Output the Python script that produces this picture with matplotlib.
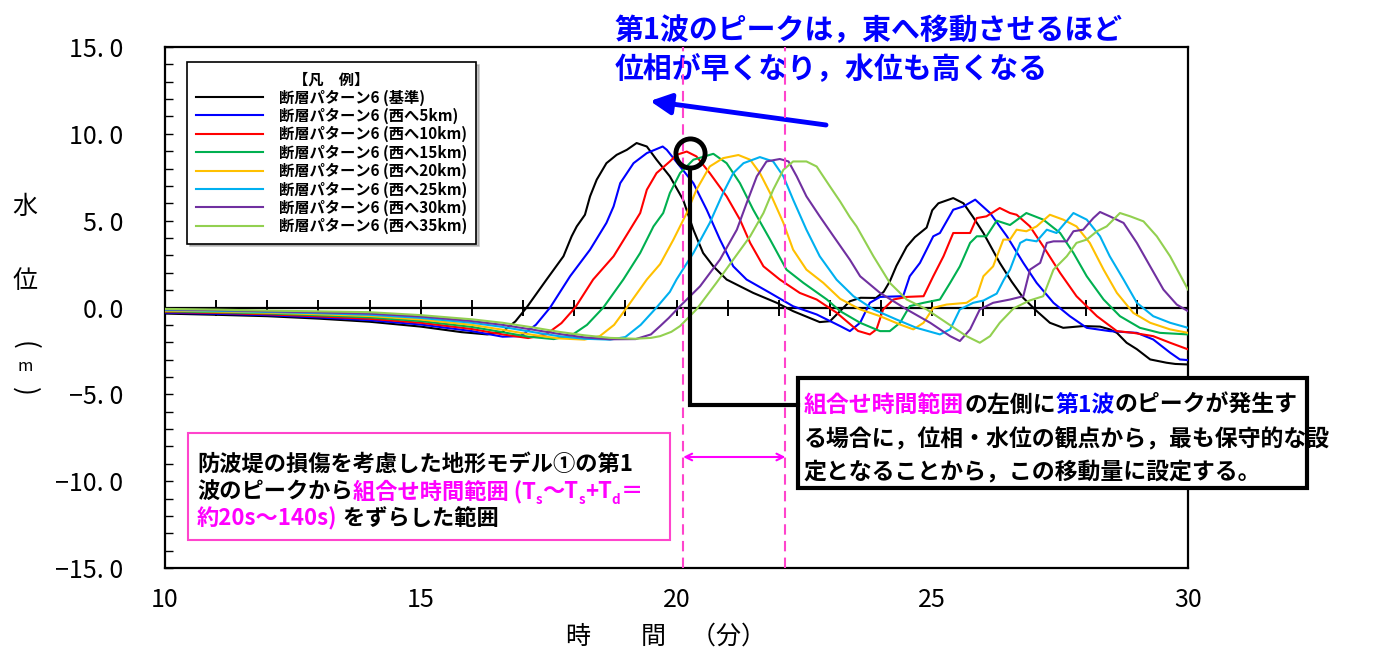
import matplotlib
matplotlib.use("Agg")
import matplotlib.pyplot as plt
from matplotlib.patches import Rectangle

# ---- data (time in minutes, water level in m) ----
black_t = [10, 11, 12, 13, 14, 15, 15.8, 16.3, 16.6, 16.85, 17.07, 17.46, 17.79, 17.95, 18.05, 18.21, 18.31, 18.44, 18.63, 18.83,
           19.03, 19.22, 19.42, 19.61, 19.87, 20.13, 20.33, 20.52, 20.72, 20.98, 21.5, 21.96, 22.28, 22.8, 23.0, 23.2, 23.39, 23.6, 23.9, 24.05,
           24.17, 24.3, 24.5, 24.66, 24.89, 25.0, 25.12, 25.41, 25.61, 25.8, 26.0, 26.32, 26.55, 26.78, 27.04, 27.3, 27.56, 27.95, 28.28, 28.47,
           28.61, 28.8, 29.0, 29.26, 29.58, 29.75, 30]
black_v = [-0.35, -0.42, -0.5, -0.64, -0.82, -1.1, -1.42, -1.55, -1.4, -0.8, 0.0, 1.61, 2.95, 4.1, 4.67, 5.34, 6.4, 7.36, 8.31, 8.79,
           9.08, 9.47, 9.27, 8.51, 7.55, 6.2, 4.48, 3.14, 2.37, 1.61, 0.84, 0.27, -0.21, -0.84, -0.79, -0.2, 0.36, 0.56, 0.55, 0.9,
           1.5, 2.4, 3.5, 4.05, 4.6, 5.6, 6.0, 6.3, 6.0, 5.2, 4.29, 2.57, 1.5, 0.55, -0.2, -0.88, -1.17, -1.07, -1.1, -1.26,
           -1.46, -2.03, -2.4, -2.99, -3.18, -3.25, -3.28]

blue_t = [10, 11, 12, 13, 14, 15, 16, 16.6, 16.95, 17.25, 17.53, 17.92, 18.31, 18.63, 18.77, 18.9, 19.16, 19.42, 19.73, 19.81,
          20.07, 20.33, 20.59, 20.85, 21.11, 21.37, 21.83, 22.28, 22.74, 23.2, 23.39, 23.59, 23.78, 23.98, 24.43, 24.56, 24.76, 25.02, 25.15, 25.41,
          25.61, 25.84, 26.13, 26.46, 26.78, 27.04, 27.37, 27.69, 28.02, 28.47, 29.0, 29.32, 29.65, 29.84, 30]
blue_v = [-0.3, -0.36, -0.44, -0.57, -0.73, -0.98, -1.36, -1.68, -1.65, -1.0, 0.0, 1.8, 3.33, 4.87, 5.82, 7.16, 8.31, 8.89, 9.27, 9.08,
          8.12, 7.16, 5.63, 3.91, 2.37, 1.61, 0.84, 0.07, -0.4, -1.07, -1.36, -0.88, 0.27, 0.61, 0.65, 1.8, 2.57, 4.1, 4.29, 5.63,
          5.82, 6.21, 5.44, 4.1, 2.57, 1.42, 0.27, -0.5, -1.17, -1.36, -1.46, -1.84, -2.6, -2.99, -3.03]

red_t = [10, 11, 12, 13, 14, 15, 16, 16.6, 17.1, 17.45, 17.75, 18.02, 18.37, 18.77, 19.09, 19.29, 19.42, 19.61, 19.87, 20.0,
         20.2, 20.39, 20.65, 20.98, 21.24, 21.44, 21.7, 22.02, 22.41, 22.74, 23.13, 23.35, 23.55, 23.78, 23.91, 24.04, 24.24, 24.5, 24.83, 25.02,
         25.22, 25.41, 25.54, 25.74, 25.87, 26.06, 26.32, 26.52, 26.65, 26.91, 27.17, 27.5, 27.82, 28.22, 28.61, 28.93, 29.32, 29.65, 30]
red_v = [-0.26, -0.31, -0.39, -0.51, -0.65, -0.88, -1.24, -1.55, -1.76, -1.55, -0.9, 0.0, 1.61, 2.95, 4.48, 5.44, 6.78, 7.74, 8.41, 8.79,
         8.98, 8.7, 7.74, 6.4, 5.06, 3.72, 2.37, 1.61, 0.84, 0.46, -0.3, -0.85, -1.35, -1.55, -1.26, -0.11, 0.46, 0.61, 0.65, 1.8,
         2.95, 4.29, 4.29, 4.29, 5.15, 5.25, 5.73, 5.44, 5.34, 4.67, 3.52, 1.99, 0.65, -0.5, -1.36, -1.46, -1.65, -2.03, -2.41]

green_t = [10, 11, 12, 13, 14, 15, 16, 16.6, 17.1, 17.6, 17.95, 18.25, 18.57, 18.96, 19.29, 19.55, 19.74, 19.87, 20.07, 20.33,
           20.72, 20.98, 21.24, 21.5, 21.83, 22.15, 22.48, 22.94, 23.2, 23.59, 23.98, 24.17, 24.37, 24.56, 24.83, 25.15, 25.35, 25.54, 25.74, 25.87,
           26.06, 26.26, 26.52, 26.84, 27.17, 27.5, 27.76, 28.02, 28.35, 28.67, 29.06, 29.45, 30]
green_v = [-0.22, -0.27, -0.34, -0.45, -0.57, -0.78, -1.12, -1.42, -1.68, -1.82, -1.6, -1.0, 0.0, 1.61, 3.14, 4.67, 5.44, 6.59, 7.74, 8.51,
           8.85, 8.31, 7.16, 5.63, 3.91, 2.18, 1.42, 0.46, -0.21, -0.88, -1.36, -1.36, -0.88, 0.08, 0.27, 0.46, 1.42, 2.37, 3.72, 4.1,
           4.1, 5.0, 4.75, 5.44, 5.06, 4.29, 3.14, 1.8, 0.46, -0.5, -1.17, -1.46, -1.55]

yellow_t = [10, 11, 12, 13, 14, 15, 16, 16.6, 17.2, 17.7, 18.2, 18.5, 18.78, 19.03, 19.42, 19.68, 19.94, 20.2, 20.39, 20.65,
            20.91, 21.21, 21.44, 21.63, 21.83, 22.09, 22.28, 22.54, 22.87, 23.2, 23.59, 23.98, 24.37, 24.63, 24.83, 25.02, 25.28, 25.67, 25.87, 26.0,
            26.19, 26.39, 26.52, 26.65, 26.84, 27.04, 27.3, 27.56, 27.82, 28.08, 28.35, 28.61, 28.93, 29.26, 29.65, 30]
yellow_v = [-0.18, -0.23, -0.3, -0.39, -0.49, -0.69, -1.0, -1.28, -1.58, -1.78, -1.85, -1.65, -1.0, 0.0, 1.61, 2.5, 3.91, 5.44, 6.78, 8.12,
            8.6, 8.78, 8.51, 7.74, 6.59, 4.87, 3.33, 2.18, 1.42, 0.5, -0.11, -0.5, -0.98, -1.26, -0.88, -0.02, 0.17, 0.27, 0.65, 1.8,
            2.37, 3.91, 3.91, 4.48, 4.39, 4.67, 5.34, 5.06, 4.67, 3.72, 2.18, 0.84, -0.31, -0.88, -1.26, -1.46]

cyan_t = [10, 11, 12, 13, 14, 15, 16, 16.6, 17.2, 17.7, 18.2, 18.7, 19.0, 19.3, 19.61, 19.87, 20.0, 20.33, 20.65, 20.91,
          21.11, 21.31, 21.63, 21.89, 22.09, 22.28, 22.54, 22.8, 23.13, 23.46, 23.85, 24.3, 24.69, 25.15, 25.35, 25.54, 25.8, 26.0, 26.26, 26.4,
          26.52, 26.72, 26.84, 27.04, 27.24, 27.43, 27.76, 28.02, 28.28, 28.47, 28.74, 29.0, 29.32, 29.65, 30]
cyan_v = [-0.14, -0.19, -0.26, -0.33, -0.42, -0.6, -0.88, -1.12, -1.42, -1.65, -1.8, -1.85, -1.7, -1.0, 0.0, 0.9, 1.61, 3.14, 4.87, 6.59,
          7.74, 8.31, 8.66, 8.41, 7.55, 6.21, 4.48, 2.95, 1.6, 0.65, -0.11, -0.69, -1.17, -1.55, -1.26, -0.11, 0.27, 0.4, 0.8, 1.6,
          2.18, 3.72, 3.91, 3.81, 4.48, 4.29, 5.44, 5.06, 4.1, 2.95, 1.61, 0.27, -0.5, -0.88, -1.17]

purple_t = [10, 11, 12, 13, 14, 15, 16, 16.6, 17.2, 17.7, 18.2, 18.7, 19.2, 19.5, 19.68, 19.85, 20.07, 20.46, 20.85, 21.18,
            21.37, 21.57, 21.76, 22.02, 22.19, 22.35, 22.54, 22.8, 23.07, 23.39, 23.59, 23.98, 24.5, 24.96, 25.35, 25.54, 25.74, 25.93, 26.19, 26.52,
            26.78, 26.91, 27.11, 27.24, 27.37, 27.63, 27.76, 27.95, 28.15, 28.28, 28.47, 28.74, 29.0, 29.26, 29.52, 29.78, 30]
purple_v = [-0.11, -0.15, -0.22, -0.28, -0.35, -0.52, -0.78, -1.0, -1.28, -1.52, -1.72, -1.83, -1.82, -1.55, -1.07, -0.6, 0.08, 1.22, 2.76, 4.48,
            6.0, 7.55, 8.41, 8.55, 8.41, 7.55, 6.4, 5.25, 4.1, 2.75, 1.8, 0.84, -0.11, -0.88, -1.65, -1.93, -1.26, -0.11, 0.27, 0.46,
            0.65, 2.18, 2.57, 3.72, 3.81, 3.81, 4.39, 4.48, 5.15, 5.5, 5.25, 4.87, 3.72, 2.37, 1.03, 0.17, -0.21]

lgreen_t = [10, 11, 12, 13, 14, 15, 16, 16.6, 17.2, 17.7, 18.2, 18.7, 19.2, 19.5, 19.68, 19.9, 20.07, 20.39, 20.78, 21.11,
            21.44, 21.7, 21.89, 22.09, 22.28, 22.54, 22.74, 23.0, 23.2, 23.39, 23.52, 23.85, 24.17, 24.5, 24.89, 25.28, 25.67, 25.93, 26.13, 26.32,
            26.59, 26.9, 27.17, 27.37, 27.63, 27.82, 28.02, 28.22, 28.41, 28.67, 28.87, 29.13, 29.39, 29.65, 30]
lgreen_v = [-0.08, -0.12, -0.18, -0.22, -0.27, -0.44, -0.68, -0.88, -1.15, -1.4, -1.6, -1.75, -1.8, -1.75, -1.65, -1.4, -1.07, -0.11, 1.42, 2.76,
            4.1, 5.44, 6.78, 7.93, 8.41, 8.41, 8.12, 6.97, 6.1, 5.2, 4.67, 2.95, 1.42, 0.46, -0.11, -0.88, -1.65, -2.03, -1.65, -0.88,
            -0.05, 0.4, 0.65, 2.18, 2.95, 3.72, 3.91, 4.39, 4.67, 5.44, 5.25, 4.96, 4.1, 2.95, 1.03]

labels = ["断層パターン6 (基準)", "断層パターン6 (西へ5km)", "断層パターン6 (西へ10km)", "断層パターン6 (西へ15km)",
          "断層パターン6 (西へ20km)", "断層パターン6 (西へ25km)", "断層パターン6 (西へ30km)", "断層パターン6 (西へ35km)"]
colors = ["#000000", "#0000FF", "#FF0000", "#00B050", "#FFC000", "#00B0F0", "#7030A0", "#92D050"]
times = [black_t, blue_t, red_t, green_t, yellow_t, cyan_t, purple_t, lgreen_t]
levels = [black_v, blue_v, red_v, green_v, yellow_v, cyan_v, purple_v, lgreen_v]

yticks = [-15, -10, -5, 0, 5, 10, 15]
ytick_labels = ["−15. 0", "−10. 0", "−5. 0", "0. 0", "5. 0", "10. 0", "15. 0"]
xticks = [10, 15, 20, 25, 30]
minute_marks = list(range(11, 30))
range_start, range_end = 20.13, 22.13   # 組合せ時間範囲

plt.rcParams['font.family'] = ['Noto Sans CJK JP', 'DejaVu Sans']

W, H = 1395, 655
fig = plt.figure(figsize=(W / 100, H / 100), dpi=100)
ax = fig.add_axes([165 / W, (H - 568) / H, (1188 - 165) / W, (568 - 47) / H])
ax.set_xlim(10, 30)
ax.set_ylim(-15, 15)

# pixel -> data helpers for placing the annotations
def px(x):
    return 10 + (x - 165) / 51.15

def py(y):
    return (307.5 - y) / 17.367

# zero line with minute marks
ax.plot([10, 30], [0, 0], color='k', lw=1.6, zorder=2)
ax.plot(minute_marks, [0] * len(minute_marks), ls='none', marker='|', ms=11, mew=1.4, color='k', zorder=2)

for t, v, c, lab in zip(times, levels, colors, labels):
    ax.plot(t, v, color=c, lw=1.5, label=lab, zorder=3, solid_joinstyle='round')

for spine in ax.spines.values():
    spine.set_linewidth(1.6)
ax.set_yticks(yticks)
ax.set_yticklabels(ytick_labels)
ax.set_yticks(range(-15, 16), minor=True)
ax.tick_params(axis='y', which='both', direction='in', length=6, width=1, pad=30, labelsize=18)
ax.set_xticks(xticks)
ax.tick_params(axis='x', length=0, pad=14, labelsize=18)
ax.set_xlabel('時　　間　（分）', fontsize=18)
ax.xaxis.label.set_va('center')
ax.xaxis.set_label_coords(0.49, -0.1325)

# vertical y-axis label (parentheses turned for vertical writing)
for ch, y, fs, rot in [("水", 207, 18, 0), ("位", 281, 18, 0), ("(", 345, 19, -90),
                       ("m", 367, 12, 0), (")", 391, 19, -90)]:
    fig.text(25 / W, 1 - y / H, ch, fontsize=fs, ha='center', va='center', rotation=rot)

leg = ax.legend(loc='upper left', bbox_to_anchor=(22 / 1023, (568 - 62) / 521), borderaxespad=0,
                title='【凡　例】', prop={'size': 11, 'weight': 'bold'},
                title_fontproperties={'size': 11, 'weight': 'bold'},
                fancybox=False, edgecolor='k', framealpha=1, shadow={'color': '0.55'},
                handlelength=4.4, handletextpad=1.0, labelspacing=0.14, borderpad=0.6)
leg.get_frame().set_linewidth(1.2)

# combination time range
pink = '#FF44CC'
mag = '#FF00FF'
blue = '#0000FF'
for x in (range_start, range_end):
    ax.axvline(x, color=pink, ls=(0, (5, 3)), lw=1.5, zorder=4)
ax.annotate('', xy=(range_end, py(457)), xytext=(range_start, py(457)),
            arrowprops=dict(arrowstyle='<->', color=mag, lw=1.5, mutation_scale=12, shrinkA=0, shrinkB=0))

# blue comment and arrow
ax.text(px(615), py(30), "第1波のピークは，東へ移動させるほど", color=blue, fontsize=20.8,
        fontweight='bold', va='center', ha='left')
ax.text(px(615), py(68), "位相が早くなり，水位も高くなる", color=blue, fontsize=20.8,
        fontweight='bold', va='center', ha='left')
ax.annotate('', xy=(px(650), py(101)), xytext=(px(826), py(125)), annotation_clip=False,
            arrowprops=dict(arrowstyle='-|>,head_length=0.9,head_width=0.45', color=blue, lw=3.5,
                            mutation_scale=14, shrinkA=0, shrinkB=0))

# circle on the red peak and leader to the box
ax.plot([px(690)], [py(153)], marker='o', ms=21, mfc='none', mec='k', mew=3.5, zorder=6)
ax.plot([px(690), px(690), px(798)], [py(168), py(405), py(405)], color='k', lw=3, zorder=6,
        solid_joinstyle='miter')


def chain(x, y, parts, size):
    # draw several coloured pieces of text one after another on one baseline
    prev = None
    for s, c, sub in parts:
        fs = size * 0.6 if sub else size
        off = -4 if sub else 0
        if prev is None:
            prev = ax.text(x, y, s, color=c, fontsize=fs, fontweight='bold', va='baseline', ha='left',
                           zorder=8, clip_on=False)
        else:
            prev = ax.annotate(s, xy=(1, y), xycoords=(prev, 'data'), xytext=(0, off),
                               textcoords='offset points', color=c, fontsize=fs, fontweight='bold',
                               va='baseline', ha='left', zorder=8, annotation_clip=False)


# left pink box
ax.add_patch(Rectangle((px(188), py(540)), px(670) - px(188), py(433) - py(540), facecolor='white',
                       edgecolor=pink, lw=1.5, zorder=5, clip_on=False))
chain(px(197), py(471), [("防波堤の損傷を考慮した地形モデル①の第1", 'k', False)], 16)
chain(px(197), py(498), [("波のピークから", 'k', False), ("組合せ時間範囲 (T", mag, False), ("s", mag, True),
                         ("～T", mag, False), ("s", mag, True), ("+T", mag, False), ("d", mag, True),
                         ("＝", mag, False)], 16)
chain(px(197), py(525), [("約20s～140s)", mag, False), (" をずらした範囲", 'k', False)], 16)

# right black box
ax.add_patch(Rectangle((px(798), py(488)), px(1307) - px(798), py(378) - py(488), facecolor='white',
                       edgecolor='k', lw=3, zorder=5, clip_on=False))
chain(px(804), py(412), [("組合せ時間範囲", mag, False), ("の左側に", 'k', False), ("第1波", blue, False),
                         ("のピークが発生す", 'k', False)], 16.5)
chain(px(804), py(446), [("る場合に，位相・水位の観点から，最も保守的な設", 'k', False)], 16.5)
chain(px(804), py(479), [("定となることから，この移動量に設定する。", 'k', False)], 16.5)

fig.savefig("out.png", dpi=100, facecolor='white')
